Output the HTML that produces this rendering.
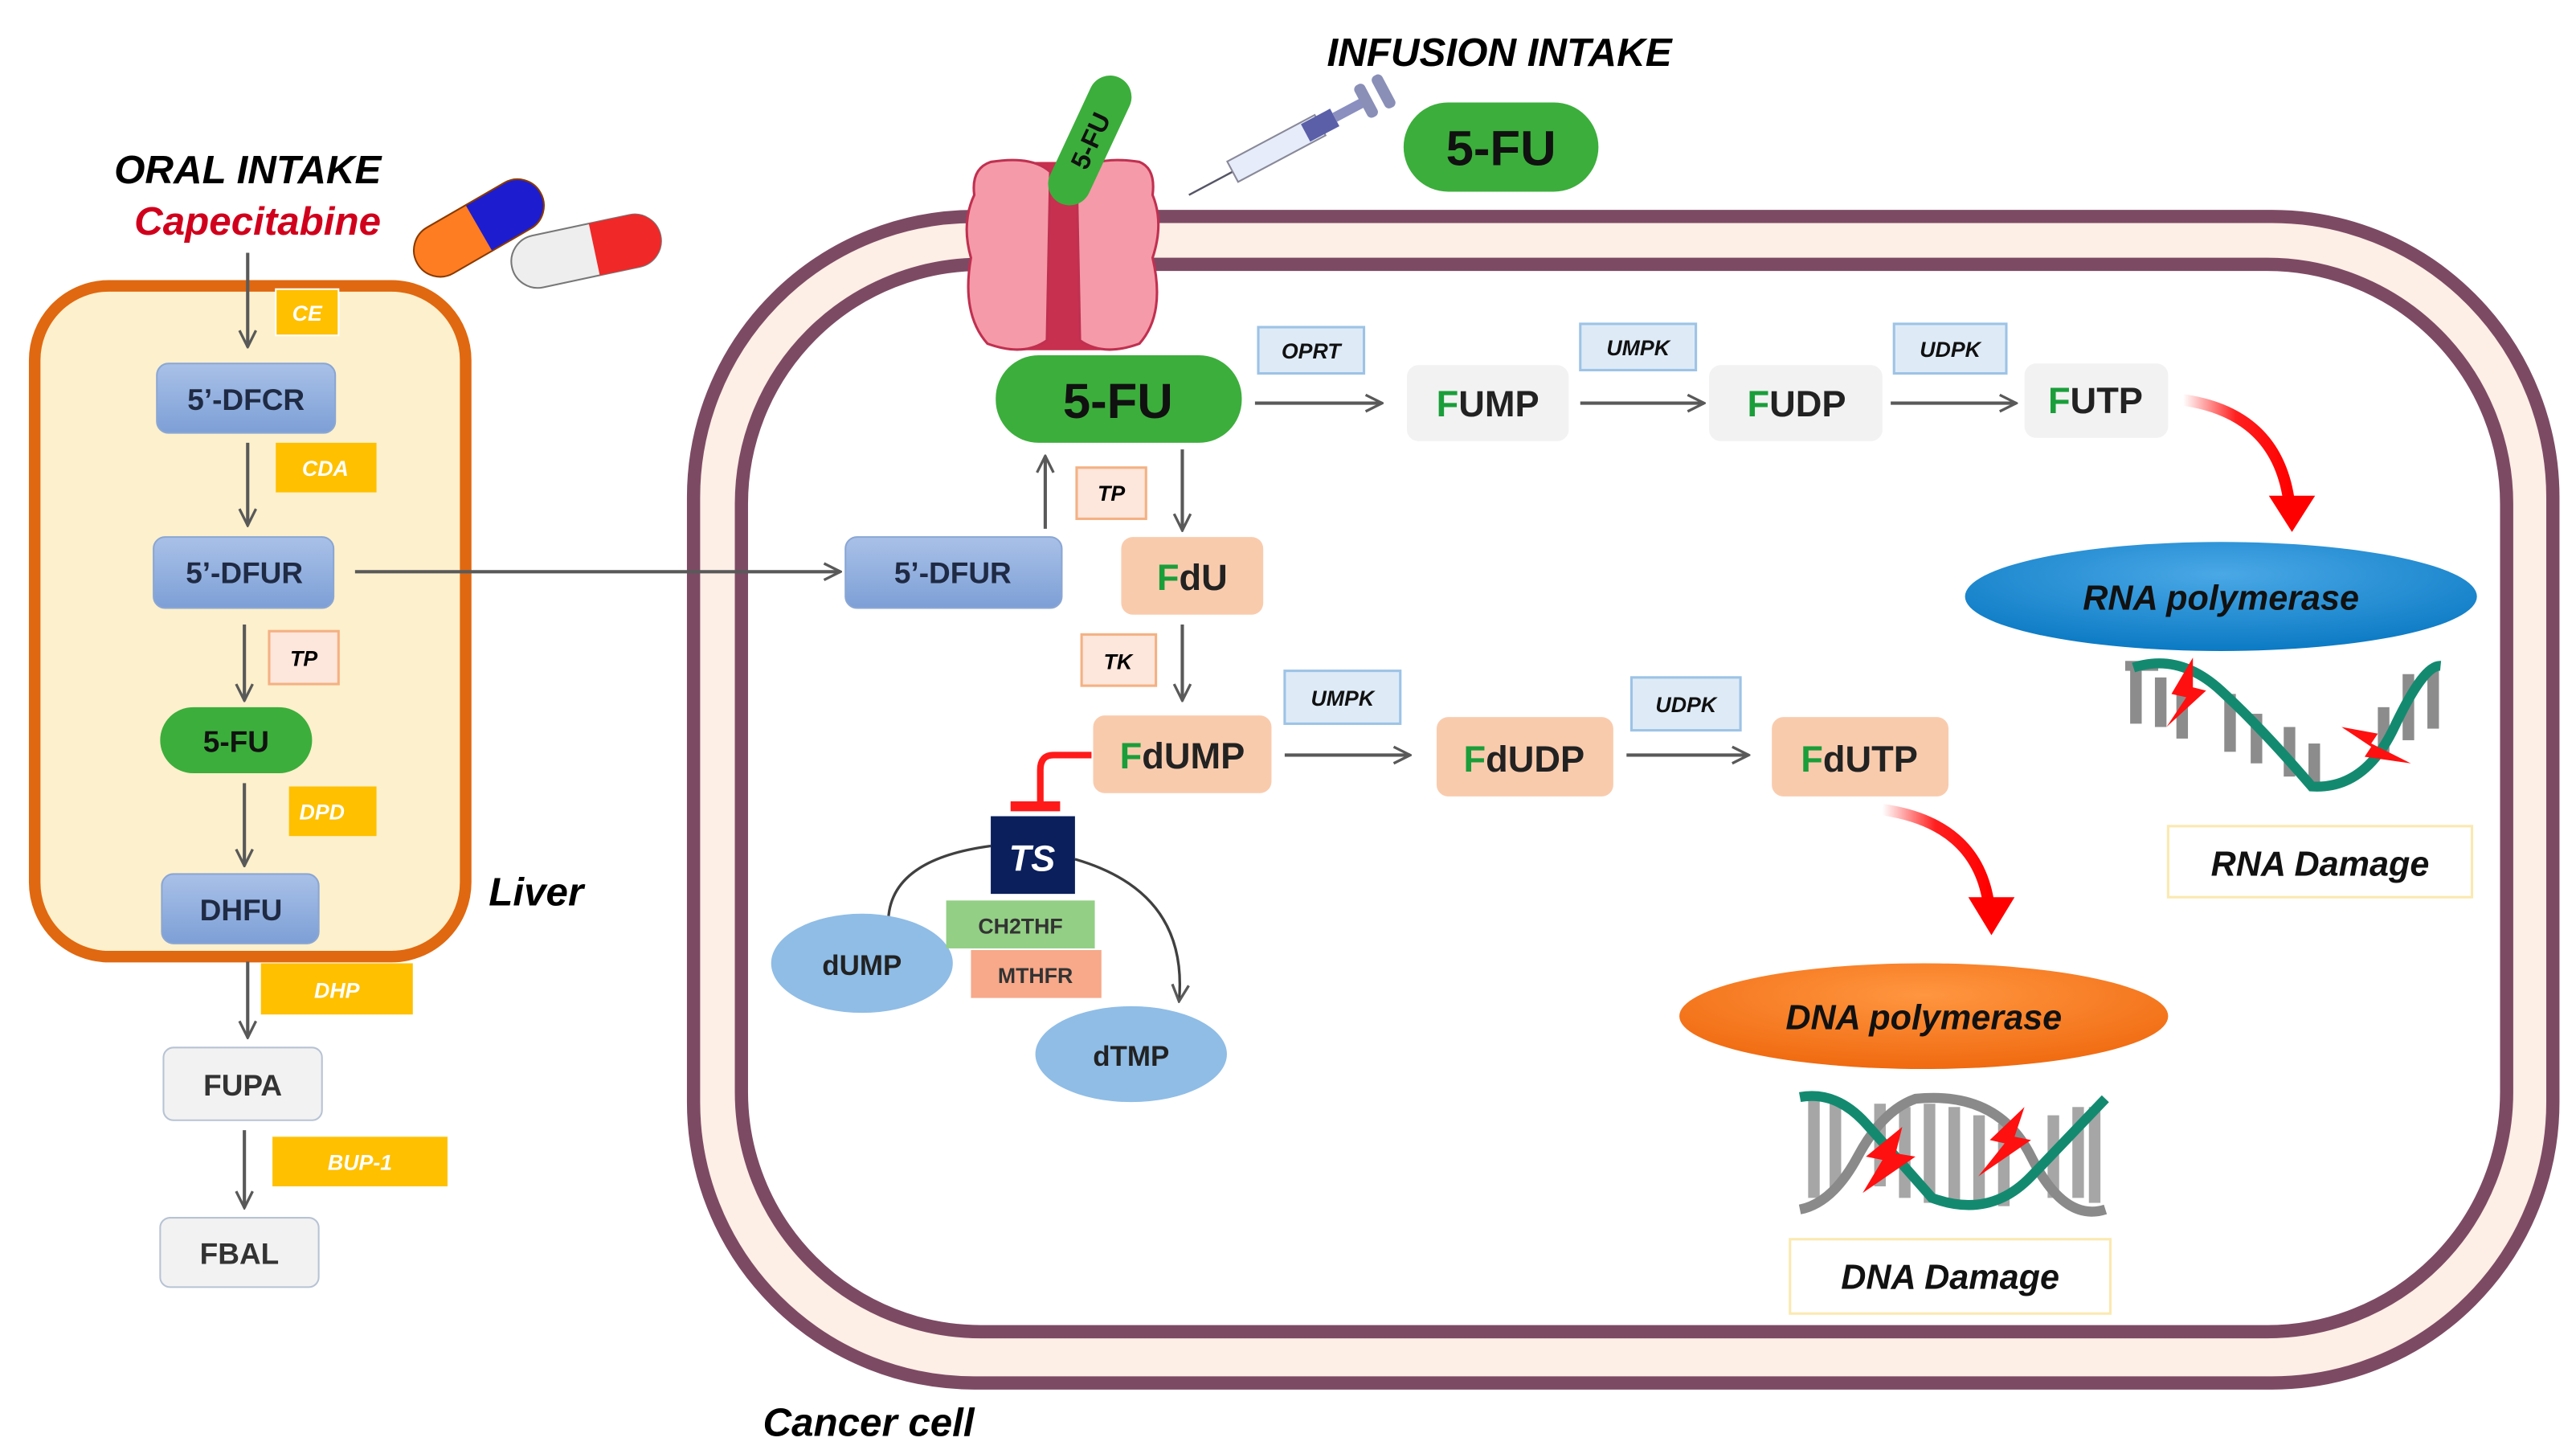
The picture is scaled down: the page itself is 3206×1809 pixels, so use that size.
<!DOCTYPE html>
<html><head><meta charset="utf-8"><style>
html,body{margin:0;padding:0;background:#fff;}
svg{display:block;}
text{font-family:"Liberation Sans",sans-serif;}
</style></head><body>
<svg width="3206" height="1809" viewBox="0 0 1560 880" preserveAspectRatio="none" xmlns="http://www.w3.org/2000/svg">
<defs>
<marker id="ah" viewBox="0 0 12 12" refX="11" refY="6" markerWidth="12" markerHeight="12" markerUnits="userSpaceOnUse" orient="auto">
<path d="M1,1 L11,6 L1,11" fill="none" stroke="#595959" stroke-width="1.6"/></marker>
<linearGradient id="blu" x1="0" y1="0" x2="0" y2="1"><stop offset="0" stop-color="#a9c1e8"/><stop offset="1" stop-color="#7d9fd6"/></linearGradient>
<radialGradient id="rna" cx="0.5" cy="0.3" r="0.7"><stop offset="0" stop-color="#4aa8e6"/><stop offset="1" stop-color="#0b7ac4"/></radialGradient>
<radialGradient id="dna" cx="0.5" cy="0.3" r="0.7"><stop offset="0" stop-color="#ff9640"/><stop offset="1" stop-color="#f06a10"/></radialGradient>
<linearGradient id="rd1" x1="0" y1="0" x2="1" y2="0"><stop offset="0" stop-color="#ffffff"/><stop offset="0.5" stop-color="#ff2020"/><stop offset="1" stop-color="#ff0000"/></linearGradient>
</defs>

<!-- Cancer cell membrane -->
<rect x="420" y="131" width="1126" height="706" rx="170" fill="#fdeee6" stroke="#7d4a64" stroke-width="8"/>
<rect x="449" y="160" width="1069" height="646" rx="145" fill="#fff" stroke="#7d4a64" stroke-width="8"/>

<!-- Liver -->
<rect x="21" y="173" width="261" height="406" rx="45" fill="#fdf0cc" stroke="#e06810" stroke-width="7"/>

<!-- Oral intake -->
<text x="150" y="111" font-size="24" font-weight="bold" font-style="italic" text-anchor="middle" fill="#000">ORAL INTAKE</text>
<text x="156" y="142" font-size="24" font-weight="bold" font-style="italic" text-anchor="middle" fill="#d0001c">Capecitabine</text>

<!-- Pills -->
<g transform="translate(290,138) rotate(-30)">
<rect x="-43" y="-16" width="86" height="32" rx="16" fill="#ff7d22"/>
<path d="M0,-16 H27 A16,16 0 0 1 27,16 H0 Z" fill="#1d1dcf"/>
<rect x="-43" y="-16" width="86" height="32" rx="16" fill="none" stroke="#8a3a00" stroke-width="1"/>
</g>
<g transform="translate(355,152) rotate(-12)">
<rect x="-46" y="-16" width="92" height="32" rx="16" fill="#eeeeee" stroke="#777" stroke-width="1"/>
<path d="M5,-16 H30 A16,16 0 0 1 30,16 H5 Z" fill="#f02828"/>
</g>

<!-- Liver pathway -->
<line x1="150" y1="153" x2="150" y2="210" stroke="#595959" stroke-width="2" marker-end="url(#ah)"/>
<rect x="167" y="175" width="38" height="28" fill="#ffc000" stroke="#fff" stroke-width="1"/>
<text x="186" y="194" font-size="13" font-style="italic" font-weight="bold" fill="#fff" text-anchor="middle">CE</text>
<rect x="95" y="220" width="108" height="42" rx="7" fill="url(#blu)" stroke="#8aa6d4"/>
<text x="149" y="248" font-size="18" font-weight="bold" fill="#1f2a44" text-anchor="middle">5’-DFCR</text>
<line x1="150" y1="268" x2="150" y2="318" stroke="#595959" stroke-width="2" marker-end="url(#ah)"/>
<rect x="167" y="268" width="61" height="30" fill="#ffc000"/>
<text x="197" y="288" font-size="13" font-style="italic" font-weight="bold" fill="#fff" text-anchor="middle">CDA</text>
<rect x="93" y="325" width="109" height="43" rx="7" fill="url(#blu)" stroke="#8aa6d4"/>
<text x="148" y="353" font-size="18" font-weight="bold" fill="#1f2a44" text-anchor="middle">5’-DFUR</text>
<line x1="148" y1="378" x2="148" y2="424" stroke="#595959" stroke-width="2" marker-end="url(#ah)"/>
<rect x="163" y="382" width="42" height="32" fill="#fde6dc" stroke="#f4b183" stroke-width="1.5"/>
<text x="184" y="403" font-size="13" font-style="italic" font-weight="bold" fill="#000" text-anchor="middle">TP</text>
<rect x="97" y="428" width="92" height="40" rx="20" fill="#3cae3c"/>
<text x="143" y="455" font-size="18" font-weight="bold" fill="#111" text-anchor="middle">5-FU</text>
<line x1="148" y1="474" x2="148" y2="524" stroke="#595959" stroke-width="2" marker-end="url(#ah)"/>
<rect x="175" y="476" width="53" height="30" fill="#ffc000"/>
<text x="195" y="496" font-size="13" font-style="italic" font-weight="bold" fill="#fff" text-anchor="middle">DPD</text>
<rect x="98" y="529" width="95" height="42" rx="7" fill="url(#blu)" stroke="#8aa6d4"/>
<text x="146" y="557" font-size="18" font-weight="bold" fill="#1f2a44" text-anchor="middle">DHFU</text>
<text x="296" y="548" font-size="24" font-weight="bold" font-style="italic" fill="#000">Liver</text>
<line x1="150" y1="582" x2="150" y2="628" stroke="#595959" stroke-width="2" marker-end="url(#ah)"/>
<rect x="158" y="583" width="92" height="31" fill="#ffc000"/>
<text x="204" y="604" font-size="13" font-style="italic" font-weight="bold" fill="#fff" text-anchor="middle">DHP</text>
<rect x="99" y="634" width="96" height="44" rx="6" fill="#f2f2f2" stroke="#b7c3d4"/>
<text x="147" y="663" font-size="18" font-weight="bold" fill="#333" text-anchor="middle">FUPA</text>
<line x1="148" y1="684" x2="148" y2="731" stroke="#595959" stroke-width="2" marker-end="url(#ah)"/>
<rect x="165" y="688" width="106" height="30" fill="#ffc000"/>
<text x="218" y="708" font-size="13" font-style="italic" font-weight="bold" fill="#fff" text-anchor="middle">BUP-1</text>
<rect x="97" y="737" width="96" height="42" rx="6" fill="#f2f2f2" stroke="#b7c3d4"/>
<text x="145" y="765" font-size="18" font-weight="bold" fill="#333" text-anchor="middle">FBAL</text>

<!-- liver to cancer arrow -->
<line x1="215" y1="346" x2="509" y2="346" stroke="#595959" stroke-width="2" marker-end="url(#ah)"/>

<!-- Channel -->
<rect x="612" y="98" width="62" height="114" rx="8" fill="#c8304f"/>
<path d="M600,98 Q625,94 636,104 L634,206 Q620,216 598,208 Q582,190 588,156 Q582,135 590,118 Q588,102 600,98 Z" fill="#f59aa8" stroke="#c03050" stroke-width="1.5"/>
<path d="M690,98 Q665,94 652,104 L654,206 Q668,216 690,208 Q706,190 698,156 Q705,135 698,118 Q700,102 690,98 Z" fill="#f59aa8" stroke="#c03050" stroke-width="1.5"/>
<g transform="translate(660,85) rotate(-65)">
<rect x="-42" y="-13" width="84" height="26" rx="13" fill="#3cae3c"/>
<text x="0" y="6" font-size="16" font-weight="bold" fill="#111" text-anchor="middle">5-FU</text>
</g>

<!-- Syringe -->
<g transform="translate(720,118) rotate(-28)">
<line x1="0" y1="0" x2="30" y2="0" stroke="#556" stroke-width="1.2"/>
<rect x="30" y="-7" width="60" height="14" fill="#e6ecfa" stroke="#889" stroke-width="1"/>
<rect x="80" y="-6" width="20" height="12" fill="#5a5fa8"/>
<rect x="100" y="-3" width="20" height="6" fill="#8a8fc0"/>
<rect x="118" y="-11" width="7" height="22" rx="3" fill="#8a8fb8"/>
<rect x="130" y="-11" width="7" height="22" rx="3" fill="#8a8fb8"/>
</g>

<text x="908" y="40" font-size="24" font-weight="bold" font-style="italic" text-anchor="middle" fill="#000">INFUSION INTAKE</text>
<rect x="850" y="62" width="118" height="54" rx="27" fill="#3cae3c"/>
<text x="909" y="100" font-size="30" font-weight="bold" fill="#111" text-anchor="middle">5-FU</text>

<!-- inner 5-FU -->
<rect x="603" y="215" width="149" height="53" rx="26" fill="#3cae3c"/>
<text x="677" y="253" font-size="30" font-weight="bold" fill="#111" text-anchor="middle">5-FU</text>

<!-- RNA row -->
<rect x="762" y="198" width="64" height="28" fill="#deebf7" stroke="#9dc3e6" stroke-width="1.5"/>
<text x="794" y="217" font-size="13" font-style="italic" font-weight="bold" fill="#111" text-anchor="middle">OPRT</text>
<line x1="760" y1="244" x2="837" y2="244" stroke="#595959" stroke-width="2" marker-end="url(#ah)"/>
<rect x="852" y="221" width="98" height="46" rx="7" fill="#f2f2f2"/>
<text x="901" y="252" font-size="22" font-weight="bold" fill="#222" text-anchor="middle"><tspan fill="#1a9e3a">F</tspan>UMP</text>
<rect x="957" y="196" width="70" height="28" fill="#deebf7" stroke="#9dc3e6" stroke-width="1.5"/>
<text x="992" y="215" font-size="13" font-style="italic" font-weight="bold" fill="#111" text-anchor="middle">UMPK</text>
<line x1="957" y1="244" x2="1032" y2="244" stroke="#595959" stroke-width="2" marker-end="url(#ah)"/>
<rect x="1035" y="221" width="105" height="46" rx="7" fill="#f2f2f2"/>
<text x="1088" y="252" font-size="22" font-weight="bold" fill="#222" text-anchor="middle"><tspan fill="#1a9e3a">F</tspan>UDP</text>
<rect x="1147" y="196" width="68" height="30" fill="#deebf7" stroke="#9dc3e6" stroke-width="1.5"/>
<text x="1181" y="216" font-size="13" font-style="italic" font-weight="bold" fill="#111" text-anchor="middle">UDPK</text>
<line x1="1145" y1="244" x2="1221" y2="244" stroke="#595959" stroke-width="2" marker-end="url(#ah)"/>
<rect x="1226" y="220" width="87" height="45" rx="7" fill="#f2f2f2"/>
<text x="1269" y="250" font-size="22" font-weight="bold" fill="#222" text-anchor="middle"><tspan fill="#1a9e3a">F</tspan>UTP</text>

<!-- red arrow RNA -->
<path d="M1322,242 Q1378,250 1386,302" fill="none" stroke="url(#rd1)" stroke-width="7"/>
<path d="M1374,300 L1402,300 L1388,322 Z" fill="#ff0000"/>
<ellipse cx="1345" cy="361" rx="155" ry="33" fill="url(#rna)"/>
<text x="1345" y="369" font-size="21" font-weight="bold" font-style="italic" fill="#111" text-anchor="middle">RNA polymerase</text>
<!-- RNA strand -->
<g fill="#8c8c8c">
<rect x="1290" y="403" width="7" height="35"/><rect x="1305" y="410" width="7" height="30"/><rect x="1318" y="417" width="7" height="30"/>
<rect x="1347" y="420" width="7" height="35"/><rect x="1363" y="432" width="7" height="30"/><rect x="1383" y="440" width="7" height="30"/><rect x="1398" y="450" width="7" height="24"/>
<rect x="1440" y="428" width="7" height="30"/><rect x="1455" y="408" width="7" height="40"/><rect x="1470" y="403" width="7" height="38"/>
<rect x="1287" y="400" width="20" height="6"/>
</g>
<path d="M1292,404 Q1320,395 1345,418 T1400,476 Q1432,478 1450,440 T1478,403" fill="none" stroke="#138a70" stroke-width="6"/>
<path d="M1328,398 L1315,420 L1324,422 L1312,440 L1336,418 L1328,416 Z" fill="#ff1010"/>
<path d="M1418,440 L1440,444 L1436,450 L1460,462 L1432,458 L1436,452 Z" fill="#ff1010"/>
<rect x="1313" y="500" width="184" height="43" fill="#fff" stroke="#fbe9b0" stroke-width="1.5"/>
<text x="1405" y="530" font-size="21" font-weight="bold" font-style="italic" fill="#111" text-anchor="middle">RNA Damage</text>

<!-- 5'-DFUR cancer -->
<rect x="512" y="325" width="131" height="43" rx="7" fill="url(#blu)" stroke="#8aa6d4"/>
<text x="577" y="353" font-size="18" font-weight="bold" fill="#1f2a44" text-anchor="middle">5’-DFUR</text>
<line x1="633" y1="320" x2="633" y2="276" stroke="#595959" stroke-width="2" marker-end="url(#ah)"/>
<rect x="652" y="283" width="42" height="31" fill="#fde6dc" stroke="#f4b183" stroke-width="1.5"/>
<text x="673" y="303" font-size="13" font-style="italic" font-weight="bold" fill="#000" text-anchor="middle">TP</text>
<line x1="716" y1="272" x2="716" y2="321" stroke="#595959" stroke-width="2" marker-end="url(#ah)"/>
<rect x="679" y="325" width="86" height="47" rx="7" fill="#f9cbad"/>
<text x="722" y="357" font-size="22" font-weight="bold" fill="#222" text-anchor="middle"><tspan fill="#1a9e3a">F</tspan>dU</text>
<rect x="655" y="384" width="45" height="31" fill="#fde6dc" stroke="#f4b183" stroke-width="1.5"/>
<text x="677" y="405" font-size="13" font-style="italic" font-weight="bold" fill="#000" text-anchor="middle">TK</text>
<line x1="716" y1="378" x2="716" y2="424" stroke="#595959" stroke-width="2" marker-end="url(#ah)"/>

<!-- DNA row -->
<rect x="662" y="433" width="108" height="47" rx="7" fill="#f9cbad"/>
<text x="716" y="465" font-size="22" font-weight="bold" fill="#222" text-anchor="middle"><tspan fill="#1a9e3a">F</tspan>dUMP</text>
<rect x="778" y="406" width="70" height="32" fill="#deebf7" stroke="#9dc3e6" stroke-width="1.5"/>
<text x="813" y="427" font-size="13" font-style="italic" font-weight="bold" fill="#111" text-anchor="middle">UMPK</text>
<line x1="778" y1="457" x2="854" y2="457" stroke="#595959" stroke-width="2" marker-end="url(#ah)"/>
<rect x="870" y="434" width="107" height="48" rx="7" fill="#f9cbad"/>
<text x="923" y="467" font-size="22" font-weight="bold" fill="#222" text-anchor="middle"><tspan fill="#1a9e3a">F</tspan>dUDP</text>
<rect x="988" y="410" width="66" height="32" fill="#deebf7" stroke="#9dc3e6" stroke-width="1.5"/>
<text x="1021" y="431" font-size="13" font-style="italic" font-weight="bold" fill="#111" text-anchor="middle">UDPK</text>
<line x1="985" y1="457" x2="1059" y2="457" stroke="#595959" stroke-width="2" marker-end="url(#ah)"/>
<rect x="1073" y="434" width="107" height="48" rx="7" fill="#f9cbad"/>
<text x="1126" y="467" font-size="22" font-weight="bold" fill="#222" text-anchor="middle"><tspan fill="#1a9e3a">F</tspan>dUTP</text>

<!-- red arrow DNA -->
<path d="M1140,490 Q1196,498 1204,545" fill="none" stroke="url(#rd1)" stroke-width="7"/>
<path d="M1192,543 L1220,543 L1206,566 Z" fill="#ff0000"/>
<ellipse cx="1165" cy="615" rx="148" ry="32" fill="url(#dna)"/>
<text x="1165" y="623" font-size="21" font-weight="bold" font-style="italic" fill="#111" text-anchor="middle">DNA polymerase</text>
<!-- DNA helix -->
<g fill="#a6a6a6">
<rect x="1095" y="665" width="7" height="60"/><rect x="1108" y="665" width="7" height="55"/><rect x="1135" y="668" width="7" height="50"/><rect x="1150" y="670" width="7" height="55"/>
<rect x="1165" y="668" width="7" height="60"/><rect x="1180" y="670" width="7" height="58"/><rect x="1195" y="675" width="7" height="55"/><rect x="1210" y="680" width="7" height="50"/>
<rect x="1240" y="675" width="7" height="50"/><rect x="1255" y="670" width="7" height="55"/><rect x="1265" y="670" width="7" height="58"/>
</g>
<path d="M1090,732 Q1110,728 1125,700 T1160,665 Q1210,660 1230,700 T1275,732" fill="none" stroke="#8a8a8a" stroke-width="6"/>
<path d="M1090,664 Q1112,660 1130,680 T1170,725 Q1205,738 1230,712 T1275,665" fill="none" stroke="#138a70" stroke-width="6"/>
<path d="M1152,682 L1130,700 L1140,702 L1128,722 L1160,700 L1148,698 Z" fill="#ff1010"/>
<path d="M1226,670 L1205,690 L1214,692 L1198,712 L1230,690 L1220,688 Z" fill="#ff1010"/>
<rect x="1084" y="750" width="194" height="45" fill="#fff" stroke="#fbe9b0" stroke-width="1.5"/>
<text x="1181" y="780" font-size="21" font-weight="bold" font-style="italic" fill="#111" text-anchor="middle">DNA Damage</text>

<!-- TS cycle -->
<path d="M661,457 H638 Q630,457 630,466 V486" fill="none" stroke="#ff1a1a" stroke-width="4"/>
<rect x="612" y="485" width="30" height="6" fill="#ff1a1a"/>
<path d="M538,556 Q540,520 600,512" fill="none" stroke="#404040" stroke-width="1.6"/>
<path d="M651,520 Q720,540 714,606" fill="none" stroke="#404040" stroke-width="1.6" marker-end="url(#ah)"/>
<rect x="600" y="494" width="51" height="47" fill="#0a1f5c"/>
<text x="625" y="527" font-size="22" font-weight="bold" font-style="italic" fill="#fff" text-anchor="middle">TS</text>
<ellipse cx="522" cy="583" rx="55" ry="30" fill="#8fbde6"/>
<text x="522" y="590" font-size="17" font-weight="bold" fill="#222" text-anchor="middle">dUMP</text>
<rect x="573" y="545" width="90" height="29" fill="#93cf85"/>
<text x="618" y="565" font-size="13" font-weight="bold" fill="#333" text-anchor="middle">CH2THF</text>
<rect x="588" y="575" width="79" height="29" fill="#f7a98a"/>
<text x="627" y="595" font-size="13" font-weight="bold" fill="#333" text-anchor="middle">MTHFR</text>
<ellipse cx="685" cy="638" rx="58" ry="29" fill="#8fbde6"/>
<text x="685" y="645" font-size="17" font-weight="bold" fill="#222" text-anchor="middle">dTMP</text>

<text x="462" y="869" font-size="24" font-weight="bold" font-style="italic" fill="#000">Cancer cell</text>
</svg>
</body></html>
